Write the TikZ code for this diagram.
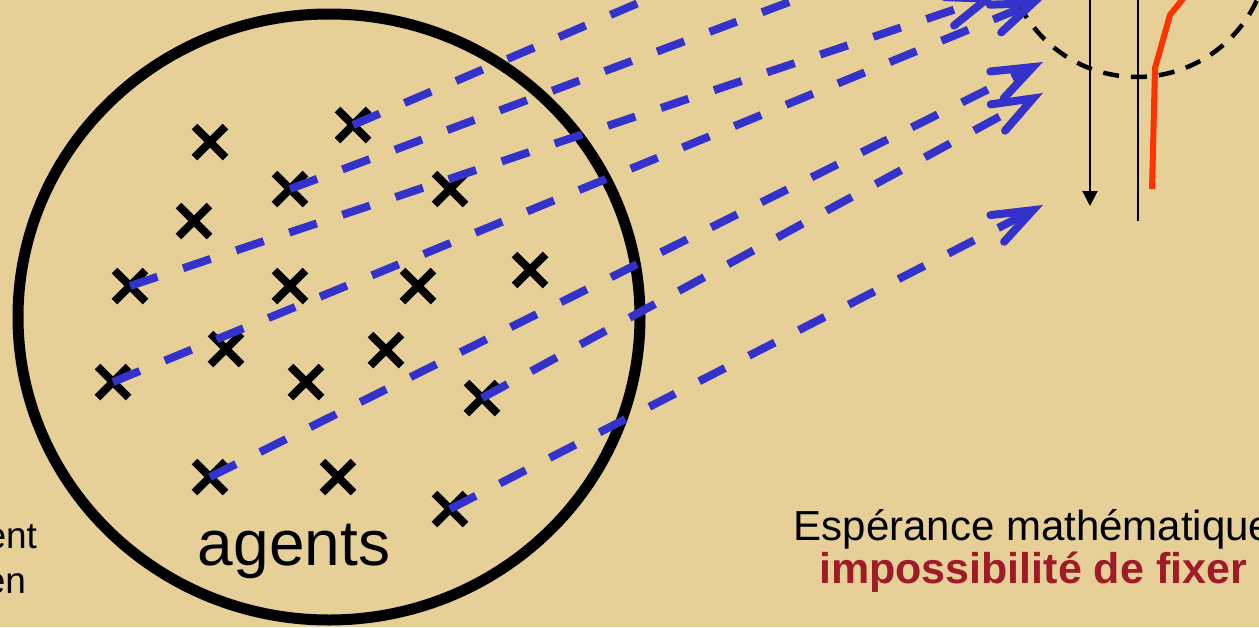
\documentclass[tikz,border=0pt]{standalone}
\usepackage{fontspec}
\setmainfont{Liberation Sans}
\usetikzlibrary{arrows.meta,shapes.geometric,shapes.misc}
\definecolor{bg}{RGB}{230,208,152}
\definecolor{agblue}{RGB}{51,51,204}
\definecolor{curvered}{RGB}{255,51,0}
\definecolor{darkred}{RGB}{160,27,40}
\begin{document}
\begin{tikzpicture}[x=1pt,y=-1pt,
  agent/.style={cross out, draw=black, line width=8pt, minimum size=31pt, inner sep=0pt, outer sep=0pt},
  proj/.style={draw=agblue, line width=8pt, dash pattern=on 29pt off 27pt,
    -{Straight Barb[length=40pt,width=30pt,line width=8pt,line cap=round,line join=miter]}},
  txt/.style={inner sep=0pt, outer sep=0pt, font=\fontsize{42}{42}\selectfont},
  sidetxt/.style={inner sep=0pt, outer sep=0pt, font=\fontsize{37}{37}\selectfont},
]
\useasboundingbox (0,0) rectangle (1259,627);
\clip (0,0) rectangle (1259,627);
\fill[bg] (0,0) rectangle (1259,627);

% population circle
\node (population) [ellipse, draw=black, line width=11pt, minimum width=622pt, minimum height=606pt, inner sep=0pt] at (329,317) {};
\node (agentslabel) [anchor=base, inner sep=0pt, font=\fontsize{64}{64}\selectfont] at (294,565) {agents};

% agents
\node (c1)  [agent] at (210,142) {};
\node (c2)  [agent] at (353,125) {};
\node (c3)  [agent] at (290,189) {};
\node (c4)  [agent] at (194,221) {};
\node (c5)  [agent] at (450,189) {};
\node (c6)  [agent] at (130,286) {};
\node (c7)  [agent] at (290,286) {};
\node (c8)  [agent] at (418,286) {};
\node (c9)  [agent] at (530,270) {};
\node (c10) [agent] at (113,382) {};
\node (c11) [agent] at (226,349) {};
\node (c12) [agent] at (386,350) {};
\node (c13) [agent] at (306,382) {};
\node (c14) [agent] at (482,398) {};
\node (c15) [agent] at (210,477) {};
\node (c16) [agent] at (338,477) {};
\node (c17) [agent] at (450,509) {};

% right-hand graph
\node (zone) [circle, draw=black, line width=4.5pt, dash pattern=on 16pt off 12pt, minimum size=264pt, inner sep=0pt] at (1137,-55) {};
\coordinate (vtop) at (1090,-5);
\coordinate (vbot) at (1090,206);
\draw[line width=2pt, -{Triangle[length=15pt,width=15pt]}] (vtop) -- (vbot);
\coordinate (ltop) at (1138,-5);
\coordinate (lbot) at (1138,221);
\draw[line width=2pt] (ltop) -- (lbot);
\coordinate (r1) at (1152,189);
\coordinate (r2) at (1155,68);
\coordinate (r3) at (1170,15);
\coordinate (r4) at (1190,-10);
\draw[curvered, line width=6pt] (r1) -- (r2) -- (r3) -- (r4);

% projection ends
\coordinate (e2)  at (1043,-170);
\coordinate (e3)  at (1043,-93);
\coordinate (e6)  at (998,-5);
\coordinate (e10) at (1043,-1);
\coordinate (e14) at (1043,93);
\coordinate (e15) at (1043,62);
\coordinate (e17) at (1043,205);

\draw[proj] (c2.center) -- (e2);
\draw[proj] (c3.center) -- (e3);
\draw[proj] (c6.center) -- (e6);
\draw[proj] (c10.center) -- (e10);
\draw[proj] (c14.center) -- (e14);
\draw[proj] (c15.center) -- (e15);
\draw[proj] (c17.center) -- (e17);

% texts
\node (lt1) [sidetxt, anchor=base east] at (37,548) {ent};
\node (lt2) [sidetxt, anchor=base east] at (26,593) {en};
\node (esp) [txt, anchor=base] at (1033,540) {Espérance mathématique};
\node (imp) [txt, anchor=base, text=darkred, font=\fontsize{43}{43}\selectfont\bfseries] at (1033,583) {impossibilité de fixer};
\end{tikzpicture}
\end{document}
